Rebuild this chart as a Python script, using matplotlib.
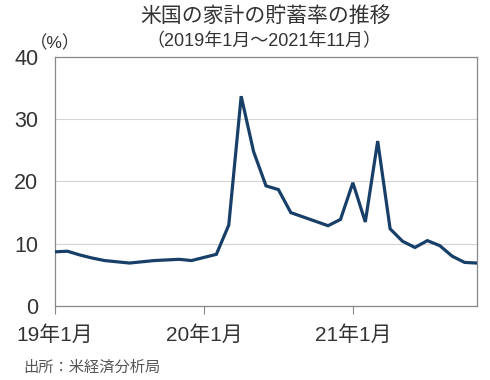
import matplotlib
matplotlib.use("Agg")
import matplotlib.pyplot as plt

# 米国の家計の貯蓄率 (%), 2019年1月〜2021年11月
months = list(range(35))
saving_rate = [8.7, 8.8, 8.2, 7.7, 7.3, 7.1, 6.9, 7.1, 7.3, 7.4, 7.5, 7.3,
               7.8, 8.3, 13.0, 33.7, 24.8, 19.3, 18.7, 15.0, 14.3, 13.6, 12.9, 13.9,
               19.8, 13.5, 26.5, 12.4, 10.4, 9.4, 10.5, 9.7, 8.0, 7.0, 6.9]
xtick_pos = [0, 12, 24]
xtick_labels = ["19年1月", "20年1月", "21年1月"]
yticks = [0, 10, 20, 30, 40]

fam = ["Liberation Sans", "Noto Sans CJK JP"]
plt.rcParams["font.family"] = fam
txt = "#333333"

fig = plt.figure(figsize=(4.9, 3.8), dpi=100)
ax = fig.add_axes([55 / 490, 1 - 306 / 380, 422 / 490, 249 / 380])

ax.plot(months, saving_rate, color="#173f68", lw=2.3, solid_joinstyle="miter", zorder=3)

ax.set_xlim(0, 34)
ax.set_ylim(0, 40)
ax.set_yticks(yticks)
ax.set_yticklabels([str(v) for v in yticks], fontsize=15.5, color=txt)
ax.set_xticks(xtick_pos)
ax.set_xticklabels(xtick_labels, fontsize=15, color=txt)
ax.tick_params(axis="y", length=0, pad=12)
ax.tick_params(axis="x", length=6, width=0.8, color="#888888", direction="out", pad=8)
ax.grid(axis="y", color="#d4d4d4", lw=0.8)
ax.set_axisbelow(True)
for s in ax.spines.values():
    s.set_color("#888888")
    s.set_linewidth(0.9)

fig.text(0.541, 1 - 16 / 380, "米国の家計の貯蓄率の推移", ha="center", va="center",
         fontsize=15, color=txt)
fig.text(0.539, 1 - 42 / 380, "（2019年1月～2021年11月）", ha="center", va="center",
         fontsize=13, color=txt)
fig.text(30 / 490, 1 - 43 / 380, "（%）", ha="left", va="center", fontsize=12.5, color=txt)
fig.text(23 / 490, 1 - 368 / 380, "出所：米経済分析局", ha="left", va="center",
         fontsize=11, color="#555555")

fig.savefig("out.png", dpi=100)
